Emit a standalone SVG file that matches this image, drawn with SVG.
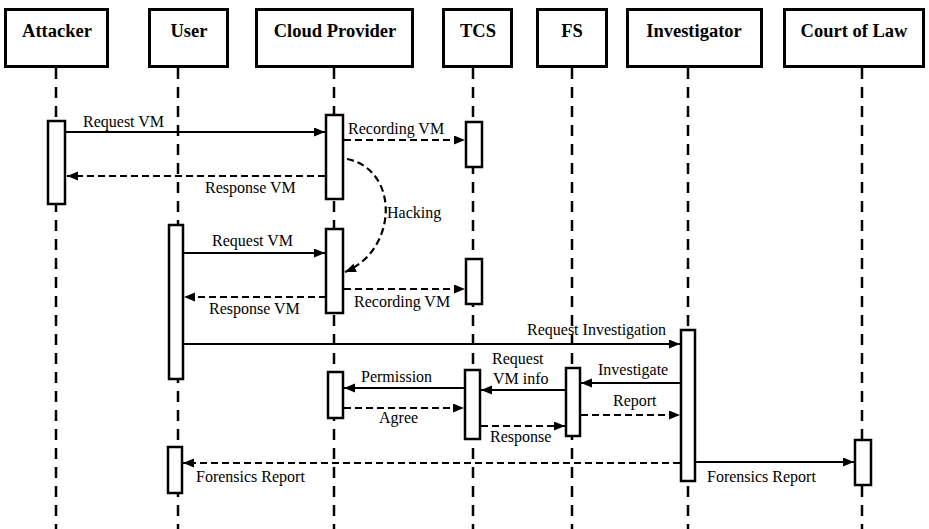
<svg xmlns="http://www.w3.org/2000/svg" width="929" height="529" viewBox="0 0 929 529">
  <defs>
    <marker id="arrow" markerUnits="userSpaceOnUse" markerWidth="12" markerHeight="10" refX="11" refY="4.5" orient="auto">
      <path d="M0,0 L11,4.5 L0,9 z" fill="#000"/>
    </marker>
    <style>
      .head { fill: #fff; stroke: #000; stroke-width: 3; }
      .head-text { font-family: 'Liberation Serif', 'DejaVu Serif', serif; font-weight: bold; font-size: 18.5px; fill: #000; text-anchor: middle; }
      .life { stroke: #000; stroke-width: 2.5; stroke-dasharray: 11 8; fill: none; }
      .act { fill: #fff; stroke: #000; stroke-width: 2.5; }
      .msg { stroke: #000; stroke-width: 2.2; fill: none; marker-end: url(#arrow); }
      .ret { stroke: #000; stroke-width: 2.2; fill: none; stroke-dasharray: 7 4; marker-end: url(#arrow); }
      .lbl { font-family: 'Liberation Serif', 'DejaVu Serif', serif; font-size: 16px; fill: #000; }
    </style>
  </defs>
  <rect width="929" height="529" fill="#fff"/>

  <!-- lifelines -->
  <g id="lifelines">
    <line class="life" x1="56" y1="68" x2="56" y2="529"/>
    <line class="life" x1="178" y1="68" x2="178" y2="529"/>
    <line class="life" x1="334" y1="68" x2="334" y2="529"/>
    <line class="life" x1="473" y1="68" x2="473" y2="529"/>
    <line class="life" x1="572" y1="68" x2="572" y2="529"/>
    <line class="life" x1="688" y1="68" x2="688" y2="529"/>
    <line class="life" x1="862" y1="68" x2="862" y2="529"/>
  </g>

  <!-- participants -->
  <g id="attacker">
    <rect class="head" x="5.5" y="9.5" width="102" height="57"/>
    <text class="head-text" x="57" y="37" font-family="Liberation Serif">Attacker</text>
    <rect class="act" x="48" y="121" width="17" height="83"/>
  </g>
  <g id="user">
    <rect class="head" x="149.5" y="9.5" width="78" height="57"/>
    <text class="head-text" x="189" y="37">User</text>
    <rect class="act" x="169" y="225" width="14" height="154"/>
    <rect class="act" x="168" y="447" width="14" height="46"/>
  </g>
  <g id="cloud-provider">
    <rect class="head" x="256.5" y="9.5" width="156" height="57"/>
    <text class="head-text" x="335" y="37">Cloud Provider</text>
    <rect class="act" x="326" y="115" width="17" height="84"/>
    <rect class="act" x="326" y="229" width="17" height="84"/>
    <rect class="act" x="328" y="372" width="15" height="46"/>
  </g>
  <g id="tcs">
    <rect class="head" x="443.5" y="9.5" width="68" height="57"/>
    <text class="head-text" x="478" y="37">TCS</text>
    <rect class="act" x="466" y="122" width="16" height="45"/>
    <rect class="act" x="466" y="259" width="16" height="45"/>
    <rect class="act" x="465" y="370" width="15" height="69"/>
  </g>
  <g id="fs">
    <rect class="head" x="537.5" y="9.5" width="69" height="57"/>
    <text class="head-text" x="572" y="37">FS</text>
    <rect class="act" x="566" y="368" width="14" height="68"/>
  </g>
  <g id="investigator">
    <rect class="head" x="627.5" y="9.5" width="134" height="57"/>
    <text class="head-text" x="694" y="37">Investigator</text>
    <rect class="act" x="681" y="330" width="14" height="151"/>
  </g>
  <g id="court-of-law">
    <rect class="head" x="784.5" y="9.5" width="139" height="57"/>
    <text class="head-text" x="854" y="37">Court of Law</text>
    <rect class="act" x="855" y="440" width="16" height="45"/>
  </g>

  <!-- messages -->
  <g id="connectors">
    <line class="msg" x1="66" y1="132" x2="325" y2="132"/>
    <line class="ret" x1="344" y1="140" x2="465" y2="140"/>
    <line class="ret" x1="325" y1="176" x2="67" y2="176"/>
    <path class="ret" d="M347 159 C400 170, 398 250, 345 272"/>
    <line class="msg" x1="184" y1="253" x2="325" y2="253"/>
    <line class="ret" x1="344" y1="289" x2="465" y2="289"/>
    <line class="ret" x1="326" y1="297" x2="184" y2="297"/>
    <line class="msg" x1="183" y1="344" x2="680" y2="344"/>
    <line class="msg" x1="680" y1="383" x2="581" y2="383"/>
    <line class="msg" x1="566" y1="390" x2="481" y2="390"/>
    <line class="msg" x1="465" y1="388" x2="344" y2="388"/>
    <line class="ret" x1="344" y1="408" x2="464" y2="408"/>
    <line class="ret" x1="581" y1="415" x2="680" y2="415"/>
    <line class="ret" x1="481" y1="426" x2="565" y2="426"/>
    <line class="ret" x1="680" y1="463" x2="183" y2="463"/>
    <line class="msg" x1="696" y1="462" x2="854" y2="462"/>
  </g>

  <!-- message labels -->
  <g id="labels">
    <text class="lbl" x="83" y="127">Request VM</text>
    <text class="lbl" x="348" y="134">Recording VM</text>
    <text class="lbl" x="205" y="193">Response VM</text>
    <text class="lbl" x="387" y="218">Hacking</text>
    <text class="lbl" x="212" y="246">Request VM</text>
    <text class="lbl" x="354" y="307">Recording VM</text>
    <text class="lbl" x="209" y="314">Response VM</text>
    <text class="lbl" x="527" y="335">Request Investigation</text>
    <text class="lbl" x="598" y="375">Investigate</text>
    <text class="lbl" x="492" y="364">Request</text>
    <text class="lbl" x="493" y="384">VM info</text>
    <text class="lbl" x="361" y="382">Permission</text>
    <text class="lbl" x="379" y="423">Agree</text>
    <text class="lbl" x="613" y="406">Report</text>
    <text class="lbl" x="490" y="442">Response</text>
    <text class="lbl" x="196" y="482">Forensics Report</text>
    <text class="lbl" x="707" y="482">Forensics Report</text>
  </g>
</svg>
